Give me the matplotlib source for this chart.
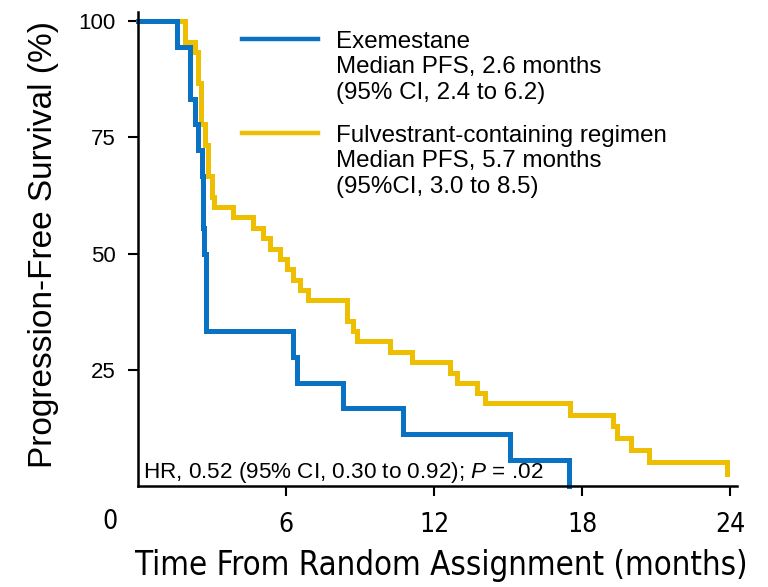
import matplotlib
matplotlib.use("Agg")
import matplotlib.pyplot as plt
from matplotlib import font_manager
from matplotlib.lines import Line2D

plt.rcParams["font.family"] = ["Liberation Sans", "DejaVu Sans"]
plt.rcParams["mathtext.fontset"] = "custom"
plt.rcParams["mathtext.rm"] = "Liberation Sans"
plt.rcParams["mathtext.it"] = "Liberation Sans:italic"

# the time axis uses a condensed face when one is installed
_condensed = [f for f in font_manager.fontManager.ttflist
              if str(f.stretch) in ("condensed", "semi-condensed", "extra-condensed", "500", "300")
              or "Narrow" in f.name or "Condensed" in f.name]
NARROW = dict(family=_condensed[0].name, stretch=_condensed[0].stretch) if _condensed else None

# Kaplan-Meier steps: time (months) and progression-free survival (%)
exe_time = [0, 1.6, 2.1, 2.3, 2.45, 2.58, 2.62, 2.68, 2.76, 6.3, 6.46, 8.32, 10.75, 15.08, 17.47]
exe_surv = [100, 94.4, 83.3, 77.8, 72.2, 66.7, 55.6, 50.0, 33.3, 27.8, 22.2, 16.7, 11.1, 5.6, 0]

ful_time = [0, 1.9, 2.31, 2.45, 2.55, 2.72, 2.85, 2.99, 3.1, 3.86, 4.67, 5.08, 5.35, 5.76,
            6.05, 6.3, 6.57, 6.9, 8.46, 8.73, 8.86, 10.21, 11.09, 12.65, 12.92, 13.73,
            14.07, 17.51, 19.27, 19.4, 20.0, 20.7, 23.86]
ful_surv = [100, 95.6, 93.3, 86.7, 77.8, 73.3, 66.7, 62.2, 60.0, 57.8, 55.6, 53.3, 51.1, 48.9,
            46.7, 44.4, 42.2, 40.0, 35.6, 33.3, 31.1, 28.9, 26.7, 24.4, 22.2, 20.0,
            17.8, 15.3, 12.8, 10.3, 7.7, 5.2, 2.6]

x_ticks = [6, 12, 18, 24]
y_ticks = [25, 50, 75, 100]

arms = [
    ("Exemestane\nMedian PFS, 2.6 months\n(95% CI, 2.4 to 6.2)", "#0A72C2"),
    ("Fulvestrant-containing regimen\nMedian PFS, 5.7 months\n(95%CI, 3.0 to 8.5)", "#EEBE00"),
]
hr_text = r"HR, 0.52 (95% CI, 0.30 to 0.92); $\mathit{P}$ = .02"

if NARROW:
    xfont = dict(NARROW)
    tick_size, xlabel_size = 19, 23.7
else:
    xfont = {}
    tick_size, xlabel_size = 17, 23.5

fig = plt.figure(figsize=(7.68, 5.87), dpi=100)
ax = fig.add_axes([0.1797, 0.1721, 0.7805, 0.8075])

ax.step(ful_time, ful_surv, where="post", color=arms[1][1], lw=3.6, solid_joinstyle="miter", clip_on=False)
ax.step(exe_time, exe_surv, where="post", color=arms[0][1], lw=3.6, solid_joinstyle="miter", clip_on=False)

ax.set_xlim(0, 24.3)
ax.set_ylim(0, 102)
for side in ("top", "right"):
    ax.spines[side].set_visible(False)
for side in ("left", "bottom"):
    ax.spines[side].set_linewidth(1.8)

ax.set_yticks(y_ticks)
ax.set_yticklabels([str(v) for v in y_ticks], fontsize=16)
ax.tick_params(axis="y", direction="out", length=7, width=1.5, pad=9)
ax.set_xticks(x_ticks)
ax.set_xticklabels([str(v) for v in x_ticks], fontsize=tick_size, **xfont)
ax.tick_params(axis="x", direction="out", length=7, width=1.5, pad=12)
ax.annotate("0", xy=(0, 0), xycoords="data", xytext=(-20, -26), textcoords="offset points",
            ha="center", va="center", fontsize=tick_size, annotation_clip=False, **xfont)

fig.text(0.056, 0.583, "Progression-Free Survival (%)", rotation=90, ha="center", va="center", fontsize=24)
fig.text(0.574, 0.036, "Time From Random Assignment (months)", ha="center", va="center",
         fontsize=xlabel_size, **xfont)

# legend drawn by hand: swatch level with the first line of each block
for (label, color), y in zip(arms, [0.943, 0.745]):
    ax.add_line(Line2D([0.1735, 0.3003], [y, y], transform=ax.transAxes, color=color, lw=3.2, clip_on=False))
    ax.text(0.330, y + 0.017, label, transform=ax.transAxes, ha="left", va="top",
            fontsize=17.4, linespacing=1.2)

ax.text(0.008, 0.002, hr_text, transform=ax.transAxes, ha="left", va="bottom", fontsize=16.2)

fig.savefig("out.png", dpi=100)
